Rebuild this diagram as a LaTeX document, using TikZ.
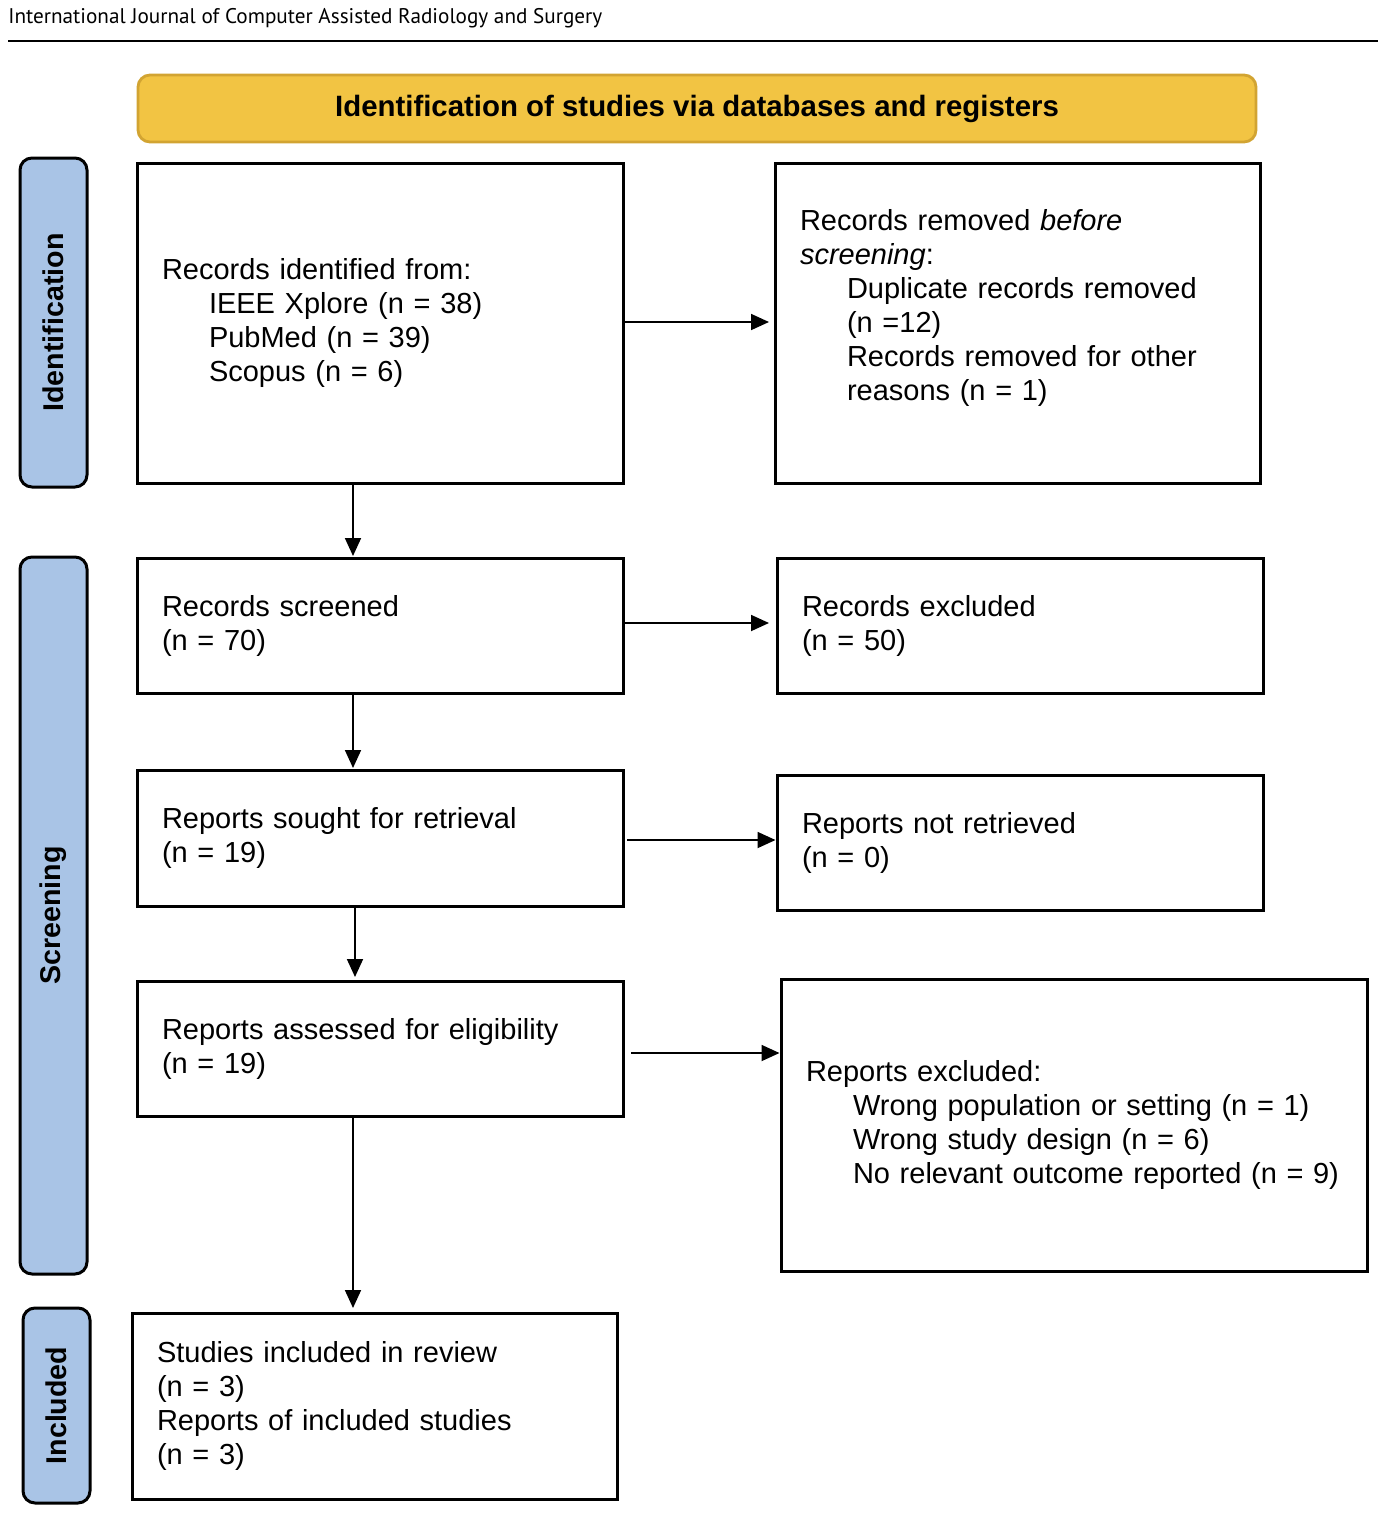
\documentclass[tikz,border=0pt]{standalone}
\usepackage{fontspec}
\setmainfont{Liberation Sans}
\newfontfamily\hdrfont{PT Sans}
\usetikzlibrary{arrows.meta}
\definecolor{banner}{HTML}{F2C443}
\definecolor{bannerb}{HTML}{D2A432}
\definecolor{side}{HTML}{A9C4E6}
\begin{document}
\begin{tikzpicture}[x=0.5pt,y=-0.5pt,
  box/.style={draw, line width=1.5pt, align=left, inner xsep=12.5pt, inner ysep=0pt, font=\fontsize{14.5}{17}\selectfont},
  side/.style={draw, line width=1.5pt, fill=side, rounded corners=6pt},
  sidelbl/.style={rotate=90, font=\bfseries\fontsize{14.3}{17}\selectfont},
  arr/.style={line width=0.9pt, -{Triangle[length=9pt,width=8pt]}}]
\useasboundingbox (0,0) rectangle (1382,1515);
\newcommand{\ind}{\hspace*{23.5pt}}
\node[anchor=west, inner sep=0pt, font=\hdrfont\fontsize{10.6}{12}\selectfont] (hdr) at (8,18) {International Journal of Computer Assisted Radiology and Surgery};
\draw[line width=1pt] (8,41) -- (1378,41);
\node[draw=bannerb, fill=banner, line width=1.4pt, rounded corners=6pt, minimum width=559pt, minimum height=33.5pt, font=\bfseries\fontsize{14.7}{17}\selectfont] (ban) at (697,108.5) {Identification of studies via databases and registers};
% side bars
\node[side, minimum width=33.5pt, minimum height=164.5pt] (s1) at (53.5,322.5) {};
\node[sidelbl] at (s1) {Identification};
\node[side, minimum width=33.5pt, minimum height=358.5pt] (s2) at (53.5,915.5) {};
\node[sidelbl] at (s2) {Screening};
\node[side, minimum width=33.5pt, minimum height=97.5pt] (s3) at (56.5,1405.5) {};
\node[sidelbl] at (s3) {Included};
% boxes
\node[box, minimum width=243pt, text width=218pt, minimum height=160pt] (A) at (380,323) {Records identified from:\\\ind IEEE Xplore (n = 38)\\\ind PubMed (n = 39)\\\ind Scopus (n = 6)};
\node[box, minimum width=242.5pt, text width=217.5pt, minimum height=160pt] (B) at (1017.5,323) {Records removed \textit{before}\\\textit{screening}:\\\ind Duplicate records removed\\\ind (n =12)\\\ind Records removed for other\\\ind reasons (n = 1)\\[-4pt]\strut};
\node[box, minimum width=243pt, text width=218pt, minimum height=67.5pt] (C) at (380,625.5) {Records screened\\(n = 70)};
\node[box, minimum width=243pt, text width=218pt, minimum height=67.5pt] (D) at (1020,625.5) {Records excluded\\(n = 50)};
\node[box, minimum width=243pt, text width=218pt, minimum height=68pt] (E) at (380,838) {Reports sought for retrieval\\(n = 19)};
\node[box, minimum width=243pt, text width=218pt, minimum height=67.5pt] (F) at (1020,842.5) {Reports not retrieved\\(n = 0)};
\node[box, minimum width=243pt, text width=218pt, minimum height=67.5pt] (G) at (380,1048.5) {Reports assessed for eligibility\\(n = 19)};
\node[box, minimum width=293pt, text width=268pt, minimum height=146pt] (H) at (1074,1125) {Reports excluded:\\\ind Wrong population or setting (n = 1)\\\ind Wrong study design (n = 6)\\\ind No relevant outcome reported (n = 9)};
\node[box, minimum width=242.5pt, text width=217.5pt, minimum height=93pt] (I) at (374.5,1406) {Studies included in review\\(n = 3)\\Reports of included studies\\(n = 3)};
% arrows
\draw[arr] (353,483) -- (353,556);
\draw[arr] (353,693) -- (353,768);
\draw[arr] (355,906) -- (355,977);
\draw[arr] (353,1116) -- (353,1308);
\draw[arr] (A.east |- 0,322) -- (769,322);
\draw[arr] (C.east |- 0,623) -- (769,623);
\draw[arr] (627,840) -- (F.west |- 0,840);
\draw[arr] (631,1053) -- (H.west |- 0,1053);
\end{tikzpicture}
\end{document}
